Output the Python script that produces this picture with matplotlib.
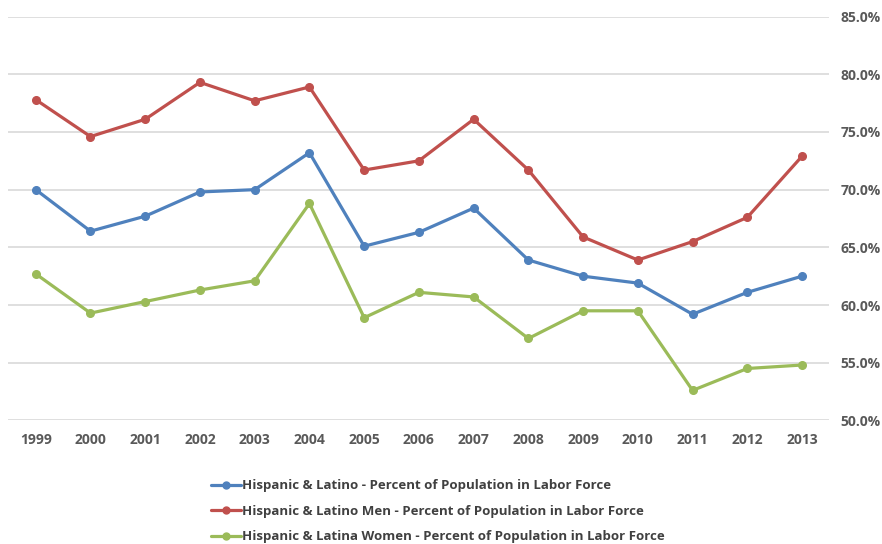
import matplotlib
matplotlib.use("Agg")
import matplotlib.pyplot as plt
from matplotlib.ticker import FuncFormatter

years = ["1999", "2000", "2001", "2002", "2003", "2004", "2005", "2006",
         "2007", "2008", "2009", "2010", "2011", "2012", "2013"]

all_hispanic = [70.0, 66.4, 67.7, 69.8, 70.0, 73.2, 65.1, 66.3,
                68.4, 63.9, 62.5, 61.9, 59.2, 61.1, 62.5]
men = [77.8, 74.6, 76.1, 79.3, 77.7, 78.9, 71.7, 72.5,
       76.1, 71.7, 65.9, 63.9, 65.5, 67.6, 72.9]
women = [62.7, 59.3, 60.3, 61.3, 62.1, 68.8, 58.9, 61.1,
         60.7, 57.1, 59.5, 59.5, 52.6, 54.5, 54.8]

labels = ["Hispanic & Latino - Percent of Population in Labor Force",
          "Hispanic & Latino Men - Percent of Population in Labor Force",
          "Hispanic & Latina Women - Percent of Population in Labor Force"]
colors = ["#4F81BD", "#C0504D", "#9BBB59"]

plt.rcParams["font.family"] = ["Open Sans", "DejaVu Sans"]

fig = plt.figure(figsize=(8.82, 5.44), dpi=100)
ax = fig.add_axes([0.0095, 0.2272, 0.9309, 0.7423])

x = list(range(len(years)))
for series, label, color in zip([all_hispanic, men, women], labels, colors):
    ax.plot(x, series, color=color, lw=2.3, marker="o", ms=5.5, label=label,
            solid_capstyle="round", solid_joinstyle="round")

ax.set_xlim(-0.5, len(years) - 0.5)
ax.set_ylim(50, 85)
ax.set_xticks(x)
ax.set_xticklabels(years)
ax.set_yticks(range(50, 86, 5))
ax.yaxis.set_major_formatter(FuncFormatter(lambda v, p: f"{v:.1f}%"))
ax.yaxis.tick_right()
ax.tick_params(axis="both", length=0, labelsize=10, labelcolor="#595959")
ax.tick_params(axis="x", pad=9)
ax.tick_params(axis="y", pad=8)
for lbl in ax.get_xticklabels() + ax.get_yticklabels():
    lbl.set_fontweight("bold")

ax.grid(axis="y", color="#D9D9D9", lw=1.2)
ax.set_axisbelow(True)
for s in ax.spines.values():
    s.set_visible(False)

leg = fig.legend(loc="upper left", bbox_to_anchor=(0.239, 0.119),
                 frameon=False, handlelength=2.3, handletextpad=0.05,
                 labelspacing=0.95, borderaxespad=0, borderpad=0,
                 prop={"weight": "bold", "size": 9.5})
for t in leg.get_texts():
    t.set_color("#404040")
for h in leg.get_lines():
    h.set_markersize(5)

fig.savefig("out.png", dpi=100)
